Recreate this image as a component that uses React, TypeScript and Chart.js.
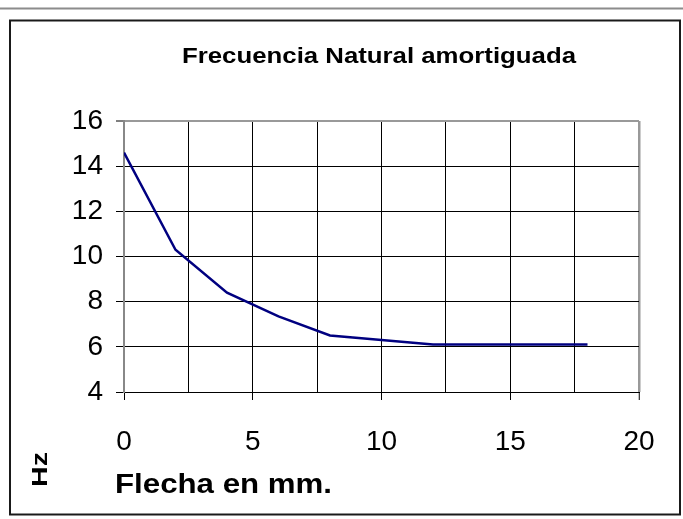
import React, { useEffect, useRef } from 'react';
import { Chart, registerables } from 'chart.js';

Chart.register(...registerables);

// ---- data ----
const flecha = [0, 2, 4, 6, 8, 10, 12, 14, 16, 18];
const frecuencia = [14.6, 10.3, 8.4, 7.35, 6.5, 6.3, 6.1, 6.1, 6.1, 6.1];
const chartTitle = 'Frecuencia Natural amortiguada';
const xTitle = 'Flecha en mm.';
const yTitle = 'Hz';

const FONT = "'Liberation Sans', Arial, Helvetica, sans-serif";

function stretchText(
  ctx: CanvasRenderingContext2D,
  text: string,
  x: number,
  y: number,
  font: string,
  targetW: number,
  rot: number,
  center: boolean
) {
  ctx.save();
  ctx.font = font;
  const w = ctx.measureText(text).width;
  ctx.translate(x, y);
  if (rot) ctx.rotate(rot);
  ctx.scale(targetW / w, 1);
  ctx.textAlign = 'left';
  ctx.textBaseline = 'alphabetic';
  ctx.fillStyle = '#000';
  ctx.fillText(text, center ? -w / 2 : 0, 0);
  ctx.restore();
}

const decor = {
  id: 'decor',
  beforeDraw(chart: any) {
    const ctx: CanvasRenderingContext2D = chart.ctx;
    ctx.save();
    ctx.fillStyle = '#fff';
    ctx.fillRect(0, 0, chart.width, chart.height);
    ctx.fillStyle = '#c4c4c4';
    ctx.fillRect(0, 7, chart.width, 3);
    ctx.fillStyle = '#8c8c8c';
    ctx.fillRect(0, 8, chart.width, 1);
    ctx.strokeStyle = '#1a1a1a';
    ctx.lineWidth = 2;
    ctx.strokeRect(10, 20.5, 670, 494);
    ctx.restore();
  },
  afterDraw(chart: any) {
    const ctx: CanvasRenderingContext2D = chart.ctx;
    stretchText(ctx, chartTitle, 379, 63, `bold 22px ${FONT}`, 394, 0, true);
    stretchText(ctx, xTitle, 115, 493, `bold 27px ${FONT}`, 217, 0, false);
    stretchText(ctx, yTitle, 47, 487, `bold 22px ${FONT}`, 35, -Math.PI / 2, false);
  },
};

export default function App() {
  const ref = useRef<HTMLCanvasElement | null>(null);

  useEffect(() => {
    if (!ref.current) return;
    const chart = new Chart(ref.current, {
      type: 'line',
      data: {
        datasets: [
          {
            data: flecha.map((x, i) => ({ x, y: frecuencia[i] })),
            borderColor: '#000080',
            borderWidth: 2.5,
            pointRadius: 0,
            tension: 0,
            fill: false,
          },
        ],
      },
      options: {
        responsive: false,
        animation: false,
        layout: { padding: { top: 121, right: 44, left: 0, bottom: 0 } },
        plugins: {
          legend: { display: false },
          tooltip: { enabled: false },
          title: { display: false },
        },
        scales: {
          x: {
            type: 'linear',
            min: 0,
            max: 20,
            ticks: {
              stepSize: 2.5,
              autoSkip: false,
              maxRotation: 0,
              padding: 25,
              color: '#000',
              font: { family: FONT, size: 28 },
              callback: (v: any) => (Number(v) % 5 === 0 ? String(v) : ''),
            },
            grid: {
              color: (c: any) =>
                c.tick && (c.tick.value === 20 || c.tick.value === 0) ? '#999' : '#000',
              lineWidth: (c: any) => (c.tick && c.tick.value === 20 ? 2.5 : 1),
              tickLength: 8,
              tickWidth: 1,
              tickColor: (c: any) =>
                c.tick && c.tick.value % 5 === 0 ? '#000' : 'rgba(0,0,0,0)',
            },
            border: { color: '#000', width: 1 },
            afterFit: (s: any) => {
              s.height = 127;
            },
          },
          y: {
            type: 'linear',
            min: 4,
            max: 16,
            ticks: {
              stepSize: 2,
              padding: 13,
              color: '#000',
              font: { family: FONT, size: 28 },
            },
            grid: {
              color: (c: any) => (c.tick && c.tick.value === 16 ? '#999' : '#000'),
              lineWidth: (c: any) => (c.tick && c.tick.value === 16 ? 2 : 1),
              tickLength: 8,
              tickWidth: 1,
              tickColor: '#000',
            },
            border: { color: '#888', width: 2 },
            afterFit: (s: any) => {
              s.width = 124;
            },
          },
        },
      } as any,
      plugins: [decor],
    });
    return () => chart.destroy();
  }, []);

  return (
    <canvas
      ref={ref}
      width={683}
      height={519}
      style={{ position: 'absolute', left: 0, top: 0, width: 683, height: 519 }}
    />
  );
}
